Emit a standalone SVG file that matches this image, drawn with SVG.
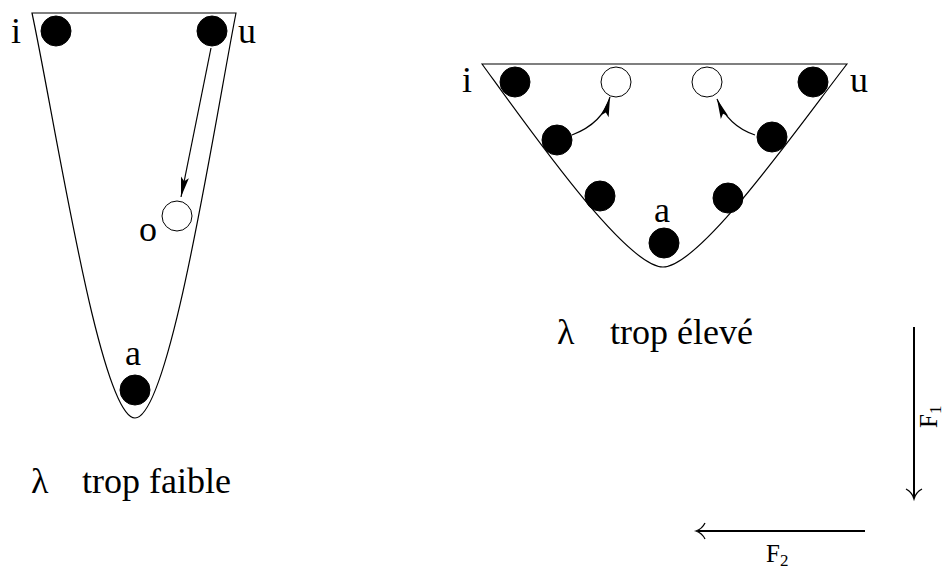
<svg xmlns="http://www.w3.org/2000/svg" width="946" height="571" viewBox="0 0 946 571">
<style>
.funnel{fill:none;stroke:#000;stroke-width:1.2}
.full{fill:#000;stroke:#000;stroke-width:1}
.empty{fill:#fff;stroke:#000;stroke-width:1}
.lbl{font-size:36px;fill:#000}
.flbl{font-size:25px;fill:#000}
.mv{fill:none;stroke:#000;stroke-width:1.2}
.force{fill:none;stroke:#000;stroke-width:2}
.chev{fill:none;stroke:#000;stroke-width:1.3}
</style>
<defs>
<marker id="ah" markerUnits="userSpaceOnUse" orient="auto" markerWidth="24" markerHeight="12" viewBox="-22 -6 24 12" refX="0" refY="0">
<path d="M0,0 L-20,-4 L-16,0 L-20,4 Z" fill="#000"/>
</marker>
</defs>
<rect width="946" height="571" fill="#fff"/>

<g id="funnel-left">
<path class="funnel" d="M32,13 L236,13 C215,120 170,418 135,418 C100,418 55,120 32,13 Z"/>
<circle class="full" cx="56" cy="31" r="15"/>
<circle class="full" cx="212" cy="31" r="15"/>
<circle class="empty" cx="177" cy="216" r="15"/>
<circle class="full" cx="135" cy="390" r="15"/>
<g font-family="'Liberation Serif', 'Times New Roman', 'DejaVu Serif', serif">
<text class="lbl" x="11" y="43">i</text>
<text class="lbl" x="238" y="43">u</text>
<text class="lbl" x="139" y="241">o</text>
<text class="lbl" x="125" y="365">a</text>
</g>
</g>

<g id="funnel-right">
<path class="funnel" d="M482,64 L847,64 C796,130 700,267 663,267 C626,267 530,130 482,64 Z"/>
<circle class="full" cx="515" cy="82" r="15"/>
<circle class="empty" cx="616" cy="82" r="15"/>
<circle class="empty" cx="707" cy="82" r="15"/>
<circle class="full" cx="813" cy="82" r="15"/>
<circle class="full" cx="557" cy="140" r="15"/>
<circle class="full" cx="772" cy="137" r="15"/>
<circle class="full" cx="600" cy="196" r="15"/>
<circle class="full" cx="728" cy="198" r="15"/>
<circle class="full" cx="664" cy="243" r="15"/>
<g font-family="'Liberation Serif', 'Times New Roman', 'DejaVu Serif', serif">
<text class="lbl" x="462" y="92">i</text>
<text class="lbl" x="850" y="92">u</text>
<text class="lbl" x="654" y="222">a</text>
</g>
</g>

<g id="captions" font-family="'Liberation Serif', 'Times New Roman', 'DejaVu Serif', serif">
<text class="lbl" x="31" y="493">λ</text>
<text class="lbl" x="82" y="493">trop faible</text>
<text class="lbl" x="557" y="344">λ</text>
<text class="lbl" x="610" y="344">trop élevé</text>
</g>

<g id="connectors">
<line class="mv" x1="211" y1="48" x2="181" y2="197" marker-end="url(#ah)"/>
<path class="mv" d="M572,135 Q603,123 610,97" marker-end="url(#ah)"/>
<path class="mv" d="M755,135 Q728,126 717,99" marker-end="url(#ah)"/>
</g>

<g id="force-F1">
<line class="force" x1="914" y1="327" x2="914" y2="497"/>
<path class="chev" d="M906,489 Q912,492 914,499 Q916,492 922,489"/>
<text class="flbl" font-family="'Liberation Serif', 'Times New Roman', 'DejaVu Serif', serif" transform="translate(937,428) rotate(-90)">F<tspan font-size="17" dy="4">1</tspan></text>
</g>

<g id="force-F2">
<line class="force" x1="865" y1="531" x2="698" y2="531"/>
<path class="chev" d="M705,523 Q702,529 696,531 Q702,533 705,539"/>
<text class="flbl" font-family="'Liberation Serif', 'Times New Roman', 'DejaVu Serif', serif" x="766" y="562">F<tspan font-size="17" dy="4">2</tspan></text>
</g>
</svg>
